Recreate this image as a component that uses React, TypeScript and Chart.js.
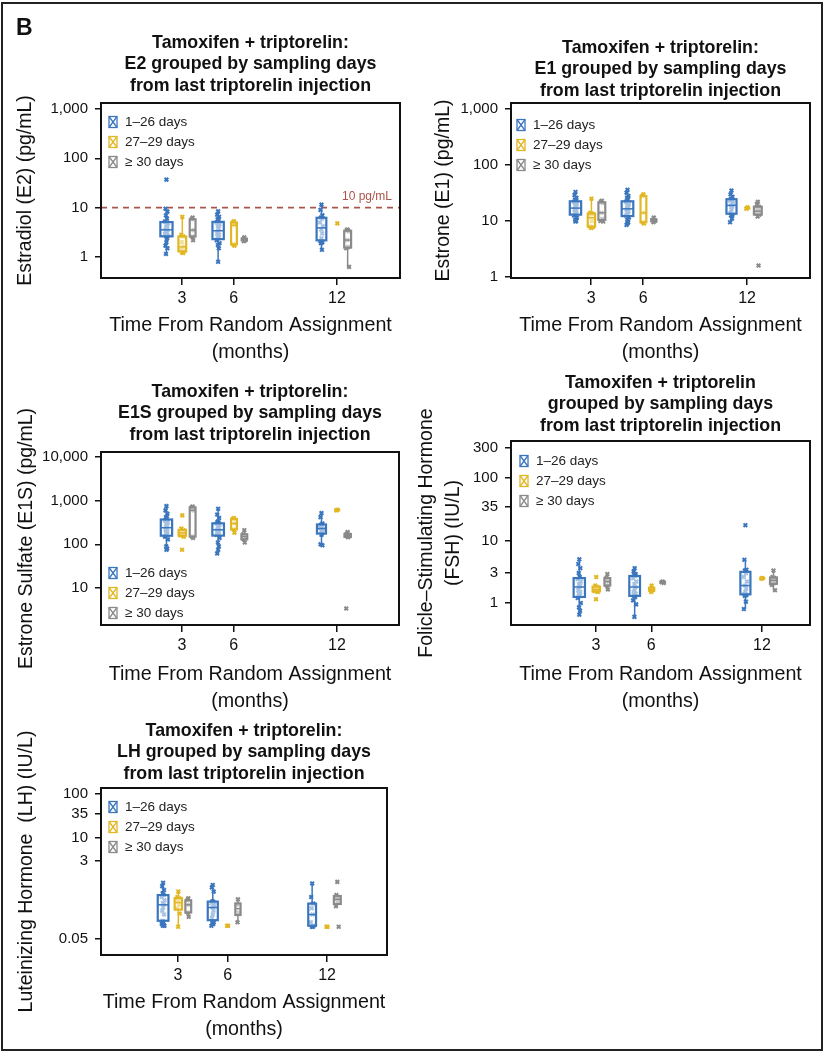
import React, { useEffect, useRef } from 'react';
import { Chart, registerables } from 'chart.js';

Chart.register(...registerables);

// ---------------- data ----------------
const months = [3, 6, 12];
const groupLabels = ['1–26 days', '27–29 days', '≥ 30 days'];
const groupColors = ['#3a76be', '#e2b724', '#8a8a8a'];
const groupOffsets = [-0.9, 0.02, 0.62];

// Estradiol (E2), pg/mL
const e2Days1to26M3 = [37, 9.5, 8.3, 7.0, 6.0, 5.2, 4.8, 4.5, 4.2, 3.9, 3.6, 3.5, 3.3, 3.1, 2.9, 2.7, 2.6, 2.4, 2.0, 1.7, 1.5, 1.15];
const e2Days1to26M6 = [8.4, 7.2, 6.5, 5.8, 5.3, 5.0, 4.6, 4.2, 3.8, 3.4, 3.0, 2.8, 2.6, 2.4, 2.2, 1.9, 1.75, 1.5, 0.8];
const e2Days1to26M12 = [11.5, 9.0, 7.0, 6.3, 6.0, 5.0, 4.2, 3.6, 3.0, 2.4, 2.1, 2.0, 1.9, 1.4];
const e2Days27to29M3 = [6.5, 2.8, 2.6, 2.0, 1.6, 1.4, 1.3, 1.25, 1.2];
const e2Days27to29M6 = [5.3, 5.0, 4.4, 1.8, 1.7];
const e2Days27to29M12 = [4.8];
const e2Days30plusM3 = [6.3, 5.8, 3.5, 2.6, 2.2];
const e2Days30plusM6 = [2.5, 2.3, 2.2, 2.1];
const e2Days30plusM12 = [3.6, 3.5, 3.3, 2.2, 1.6, 1.5, 0.63];

// Estrone (E1), pg/mL
const e1Days1to26M3 = [33, 29, 26, 24, 23, 22, 20, 19, 18, 17, 16, 15, 14, 13.5, 12.5, 11.5, 10.5, 10, 9.8];
const e1Days1to26M6 = [36, 32, 28, 26, 24, 22, 20, 19, 18, 17, 16, 15, 14, 13, 12.5, 11.5, 10.5, 9.5, 9, 8.5];
const e1Days1to26M12 = [35, 30, 27, 25, 24, 23, 21, 19, 18, 16, 14, 13, 12.5, 11, 9.5];
const e1Days27to29M3 = [25, 14, 13.5, 13, 10, 8, 7.8, 7.5];
const e1Days27to29M6 = [30, 28, 14, 9.5, 9];
const e1Days27to29M12 = [17.5, 16.5];
const e1Days30plusM3 = [23, 22, 21, 14, 11, 10, 9.8];
const e1Days30plusM6 = [11.5, 10.5, 10, 9.5];
const e1Days30plusM12 = [22, 20, 18, 16, 15, 14, 13, 12, 1.6];

// Estrone sulfate (E1S), pg/mL
const e1sDays1to26M3 = [750, 600, 500, 420, 390, 350, 320, 290, 260, 240, 220, 200, 180, 165, 150, 130, 90, 80, 75];
const e1sDays1to26M6 = [650, 480, 400, 330, 310, 300, 280, 260, 240, 220, 210, 200, 185, 170, 165, 140, 110, 90, 75, 62];
const e1sDays1to26M12 = [520, 420, 300, 280, 260, 240, 220, 200, 180, 165, 100, 95];
const e1sDays27to29M3 = [460, 230, 210, 190, 175, 160, 150, 75];
const e1sDays27to29M6 = [400, 380, 300, 220, 185];
const e1sDays27to29M12 = [620, 600];
const e1sDays30plusM3 = [730, 700, 600, 150, 140];
const e1sDays30plusM6 = [210, 170, 150, 130, 110];
const e1sDays30plusM12 = [190, 175, 165, 155, 145, 3.4];

// Follicle-stimulating hormone (FSH), IU/L
const fshDays1to26M3 = [5.0, 4.2, 3.6, 3.0, 2.6, 2.4, 2.2, 2.0, 1.9, 1.8, 1.6, 1.5, 1.4, 1.3, 1.2, 1.0, 0.85, 0.75, 0.65];
const fshDays1to26M6 = [3.6, 3.2, 2.9, 2.8, 2.7, 2.5, 2.2, 2.0, 1.8, 1.6, 1.5, 1.4, 1.3, 1.25, 1.1, 0.95, 0.6];
const fshDays1to26M12 = [17.5, 4.9, 3.4, 3.3, 3.0, 2.6, 2.2, 1.9, 1.7, 1.5, 1.4, 1.35, 1.3, 1.05, 0.8];
const fshDays27to29M3 = [2.6, 1.9, 1.8, 1.7, 1.6, 1.55, 1.5, 1.15];
const fshDays27to29M6 = [1.9, 1.7, 1.6, 1.5];
const fshDays27to29M12 = [2.5, 2.45];
const fshDays30plusM3 = [2.9, 2.5, 2.2, 1.9, 1.65];
const fshDays30plusM6 = [2.2, 2.15, 2.1];
const fshDays30plusM12 = [3.3, 2.6, 2.5, 2.3, 2.1, 1.95, 1.6];

// Luteinizing hormone (LH), IU/L
const lhDays1to26M3 = [0.95, 0.8, 0.65, 0.55, 0.5, 0.45, 0.38, 0.33, 0.3, 0.26, 0.22, 0.18, 0.13, 0.12, 0.11, 0.1, 0.1];
const lhDays1to26M6 = [0.85, 0.75, 0.6, 0.36, 0.35, 0.33, 0.3, 0.26, 0.22, 0.18, 0.15, 0.12, 0.115, 0.11, 0.1];
const lhDays1to26M12 = [0.92, 0.45, 0.32, 0.25, 0.18, 0.12, 0.1, 0.095, 0.095];
const lhDays27to29M3 = [0.6, 0.45, 0.42, 0.38, 0.3, 0.25, 0.19, 0.095];
const lhDays27to29M6 = [0.1, 0.1];
const lhDays27to29M12 = [0.095, 0.095];
const lhDays30plusM3 = [0.42, 0.38, 0.3, 0.2, 0.16];
const lhDays30plusM6 = [0.4, 0.3, 0.2, 0.12];
const lhDays30plusM12 = [1.0, 0.5, 0.45, 0.4, 0.35, 0.28, 0.095];

// tick labels
const xTickValues = months;
const e2TickValues = [1, 10, 100, 1000];
const e1TickValues = [1, 10, 100, 1000];
const e1sTickValues = [10, 100, 1000, 10000];
const fshTickValues = [1, 3, 10, 35, 100, 300];
const lhTickValues = [0.05, 3, 10, 35, 100];

const e2Threshold = 10;
const e2ThresholdLabel = '10 pg/mL';

const xAxisTitle = ['Time From Random Assignment', '(months)'];

// ---------------- layout / styles ----------------
const FONT = '"Liberation Sans", Arial, Helvetica, sans-serif';
const jitterPattern = [0, -1, 1, -0.5, 0.5, -1.5, 1.5, -0.25, 0.75];
const jitterStep = 0.055;
const boxWidthK = 2.6;

type Panel = {
  key: string;
  canvas: { left: number; top: number; width: number; height: number };
  area: { left: number; top: number; right: number; bottom: number };
  title: string[];
  titleFirst: number;
  yTitle: string | string[];
  yTitlePad: number;
  yTicks: number[];
  yMin: number;
  yMax: number;
  xMin: number;
  xMax: number;
  xTitlePad: number;
  legendIconDx: number;
  legendTextDx: number;
  legendRow: number;
  legendFromBottom?: boolean;
  data: number[][][];
  threshold?: { value: number; label: string };
  letter?: string;
};

const panels: Panel[] = [
  {
    key: 'e2',
    canvas: { left: 0, top: 0, width: 412, height: 370 },
    area: { left: 101, top: 103, right: 400, bottom: 278 },
    title: ['Tamoxifen + triptorelin:', 'E2 grouped by sampling days', 'from last triptorelin injection'],
    titleFirst: -60,
    yTitle: 'Estradiol (E2) (pg/mL)',
    yTitlePad: 12.5,
    yTicks: e2TickValues,
    yMin: 0.375,
    yMax: 1320,
    xMin: -1.7,
    xMax: 15.66,
    xTitlePad: 3.5,
    legendIconDx: 8,
    legendTextDx: 24,
    legendRow: 19,
    data: [
      [e2Days1to26M3, e2Days1to26M6, e2Days1to26M12],
      [e2Days27to29M3, e2Days27to29M6, e2Days27to29M12],
      [e2Days30plusM3, e2Days30plusM6, e2Days30plusM12],
    ],
    threshold: { value: e2Threshold, label: e2ThresholdLabel },
    letter: 'B',
  },
  {
    key: 'e1',
    canvas: { left: 412, top: 0, width: 416, height: 370 },
    area: { left: 511, top: 103, right: 810, bottom: 278 },
    title: ['Tamoxifen + triptorelin:', 'E1 grouped by sampling days', 'from last triptorelin injection'],
    titleFirst: -55,
    yTitle: 'Estrone (E1) (pg/mL)',
    yTitlePad: 18.5,
    yTicks: e1TickValues,
    yMin: 0.96,
    yMax: 1280,
    xMin: -1.62,
    xMax: 15.63,
    xTitlePad: 3.5,
    legendIconDx: 6,
    legendTextDx: 22,
    legendRow: 22,
    data: [
      [e1Days1to26M3, e1Days1to26M6, e1Days1to26M12],
      [e1Days27to29M3, e1Days27to29M6, e1Days27to29M12],
      [e1Days30plusM3, e1Days30plusM6, e1Days30plusM12],
    ],
  },
  {
    key: 'e1s',
    canvas: { left: 0, top: 370, width: 412, height: 350 },
    area: { left: 101, top: 452, right: 399, bottom: 625 },
    title: ['Tamoxifen + triptorelin:', 'E1S grouped by sampling days', 'from last triptorelin injection'],
    titleFirst: -60,
    yTitle: 'Estrone Sulfate (E1S) (pg/mL)',
    yTitlePad: 13.5,
    yTicks: e1sTickValues,
    yMin: 1.42,
    yMax: 13000,
    xMin: -1.7,
    xMax: 15.6,
    xTitlePad: 4.5,
    legendIconDx: 8,
    legendTextDx: 24,
    legendRow: -52,
    legendFromBottom: true,
    data: [
      [e1sDays1to26M3, e1sDays1to26M6, e1sDays1to26M12],
      [e1sDays27to29M3, e1sDays27to29M6, e1sDays27to29M12],
      [e1sDays30plusM3, e1sDays30plusM6, e1sDays30plusM12],
    ],
  },
  {
    key: 'fsh',
    canvas: { left: 412, top: 370, width: 416, height: 350 },
    area: { left: 511, top: 441, right: 810, bottom: 625 },
    title: ['Tamoxifen + triptorelin', 'grouped by sampling days', 'from last triptorelin injection'],
    titleFirst: -58,
    yTitle: ['Folicle–Stimulating Hormone', '(FSH) (IU/L)'],
    yTitlePad: 1.5,
    yTicks: fshTickValues,
    yMin: 0.445,
    yMax: 388,
    xMin: -1.6,
    xMax: 14.6,
    xTitlePad: 4.5,
    legendIconDx: 9,
    legendTextDx: 25,
    legendRow: 20,
    data: [
      [fshDays1to26M3, fshDays1to26M6, fshDays1to26M12],
      [fshDays27to29M3, fshDays27to29M6, fshDays27to29M12],
      [fshDays30plusM3, fshDays30plusM6, fshDays30plusM12],
    ],
  },
  {
    key: 'lh',
    canvas: { left: 0, top: 720, width: 412, height: 325 },
    area: { left: 101, top: 788, right: 387, bottom: 955 },
    title: ['Tamoxifen + triptorelin:', 'LH grouped by sampling days', 'from last triptorelin injection'],
    titleFirst: -57,
    yTitle: 'Luteinizing Hormone  (LH) (IU/L)',
    yTitlePad: 13.5,
    yTicks: lhTickValues,
    yMin: 0.0216,
    yMax: 137,
    xMin: -1.65,
    xMax: 15.62,
    xTitlePad: 1.5,
    legendIconDx: 8,
    legendTextDx: 24,
    legendRow: 19,
    data: [
      [lhDays1to26M3, lhDays1to26M6, lhDays1to26M12],
      [lhDays27to29M3, lhDays27to29M6, lhDays27to29M12],
      [lhDays30plusM3, lhDays30plusM6, lhDays30plusM12],
    ],
  },
];

function quantile(sorted: number[], p: number) {
  const idx = (sorted.length - 1) * p;
  const lo = Math.floor(idx);
  const hi = Math.ceil(idx);
  return sorted[lo] + (sorted[hi] - sorted[lo]) * (idx - lo);
}

function boxStats(vals: number[]) {
  const logs = vals.map((v) => Math.log10(v)).sort((a, b) => a - b);
  const q1 = quantile(logs, 0.25);
  const med = quantile(logs, 0.5);
  const q3 = quantile(logs, 0.75);
  const iqr = q3 - q1;
  const inside = logs.filter((v) => v >= q1 - 1.5 * iqr && v <= q3 + 1.5 * iqr);
  const lo = Math.min(...inside);
  const hi = Math.max(...inside);
  const p = (v: number) => Math.pow(10, v);
  return { q1: p(q1), med: p(med), q3: p(q3), lo: p(lo), hi: p(hi) };
}

function fmt(v: number) {
  if (v >= 1000) return v.toLocaleString('en-US');
  return String(v);
}

function PanelChart({ cfg }: { cfg: Panel }) {
  const ref = useRef<HTMLCanvasElement | null>(null);
  useEffect(() => {
    const canvas = ref.current;
    if (!canvas) return;
    const c = cfg.canvas;
    const a = cfg.area;

    const datasets = groupLabels.map((label, g) => ({
      type: 'scatter' as const,
      label,
      data: months.flatMap((m, mi) =>
        cfg.data[g][mi].map((v, i) => ({
          x: m + groupOffsets[g] + jitterPattern[i % jitterPattern.length] * jitterStep,
          y: v,
        }))
      ),
      pointStyle: 'crossRot',
      pointRadius: 2.6,
      pointBorderWidth: 2,
      pointHoverRadius: 2.6,
      borderColor: groupColors[g],
      backgroundColor: groupColors[g],
      showLine: false,
    }));

    const decor = {
      id: 'panelDecor',
      beforeDatasetsDraw(chart: any) {
        const ctx = chart.ctx;
        const ca = chart.chartArea;
        const xs = chart.scales.x;
        const ys = chart.scales.y;
        ctx.save();
        if (cfg.threshold) {
          const y = ys.getPixelForValue(cfg.threshold.value);
          ctx.strokeStyle = '#a8564c';
          ctx.lineWidth = 1.6;
          ctx.setLineDash([6, 5]);
          ctx.beginPath();
          ctx.moveTo(ca.left, y);
          ctx.lineTo(ca.right, y);
          ctx.stroke();
          ctx.setLineDash([]);
          ctx.fillStyle = '#a8564c';
          ctx.font = `12px ${FONT}`;
          ctx.textAlign = 'right';
          ctx.textBaseline = 'middle';
          ctx.fillText(cfg.threshold.label, ca.right - 8, y - 11);
        }
        // whiskers
        cfg.data.forEach((arr, g) =>
          arr.forEach((vals, mi) => {
            const st = boxStats(vals);
            const cx = xs.getPixelForValue(months[mi] + groupOffsets[g]);
            ctx.strokeStyle = groupColors[g];
            ctx.lineWidth = 1.5;
            ctx.beginPath();
            ctx.moveTo(cx, ys.getPixelForValue(st.q3));
            ctx.lineTo(cx, ys.getPixelForValue(st.hi));
            ctx.moveTo(cx, ys.getPixelForValue(st.q1));
            ctx.lineTo(cx, ys.getPixelForValue(st.lo));
            ctx.stroke();
          })
        );
        ctx.restore();
      },
      afterDatasetsDraw(chart: any) {
        const ctx = chart.ctx;
        const xs = chart.scales.x;
        const ys = chart.scales.y;
        ctx.save();
        cfg.data.forEach((arr, g) =>
          arr.forEach((vals, mi) => {
            const st = boxStats(vals);
            const cx = xs.getPixelForValue(months[mi] + groupOffsets[g]);
            const w = boxWidthK * Math.sqrt(vals.length);
            const y3 = ys.getPixelForValue(st.q3);
            const y1 = ys.getPixelForValue(st.q1);
            const ym = ys.getPixelForValue(st.med);
            ctx.fillStyle = 'rgba(255,255,255,0.55)';
            ctx.fillRect(cx - w / 2, y3, w, y1 - y3);
            ctx.strokeStyle = groupColors[g];
            ctx.lineWidth = 2.2;
            ctx.strokeRect(cx - w / 2, y3, w, y1 - y3);
            ctx.lineWidth = 1.5;
            ctx.beginPath();
            ctx.moveTo(cx - w / 2, ym);
            ctx.lineTo(cx + w / 2, ym);
            ctx.stroke();
          })
        );
        ctx.restore();
      },
      afterDraw(chart: any) {
        const ctx = chart.ctx;
        const ca = chart.chartArea;
        ctx.save();
        // plot frame
        ctx.strokeStyle = '#111';
        ctx.lineWidth = 2;
        ctx.strokeRect(ca.left, ca.top, ca.right - ca.left, ca.bottom - ca.top);
        // title
        ctx.fillStyle = '#111';
        ctx.font = `bold 17.8px ${FONT}`;
        ctx.textAlign = 'center';
        ctx.textBaseline = 'middle';
        const cx = (ca.left + ca.right) / 2;
        cfg.title.forEach((line, i) => {
          ctx.fillText(line, cx, ca.top + cfg.titleFirst + i * 21.5);
        });
        // legend
        ctx.font = `13.5px ${FONT}`;
        ctx.textAlign = 'left';
        const base = cfg.legendFromBottom ? ca.bottom + cfg.legendRow : ca.top + cfg.legendRow;
        groupLabels.forEach((label, g) => {
          const y = base + g * 20;
          const ix = ca.left + cfg.legendIconDx;
          const iw = 8;
          const ih = 11;
          ctx.strokeStyle = groupColors[g];
          ctx.lineWidth = 1.3;
          ctx.strokeRect(ix, y - ih / 2, iw, ih);
          ctx.beginPath();
          ctx.moveTo(ix, y - ih / 2);
          ctx.lineTo(ix + iw, y + ih / 2);
          ctx.moveTo(ix + iw, y - ih / 2);
          ctx.lineTo(ix, y + ih / 2);
          ctx.stroke();
          ctx.fillStyle = '#222';
          ctx.fillText(label, ca.left + cfg.legendTextDx, y + 0.5);
        });
        if (cfg.letter) {
          ctx.fillStyle = '#111';
          ctx.font = `bold 23px ${FONT}`;
          ctx.textAlign = 'left';
          ctx.textBaseline = 'alphabetic';
          ctx.fillText(cfg.letter, 16 - c.left, 35 - c.top);
        }
        ctx.restore();
      },
    };

    const chart = new Chart(canvas, {
      type: 'scatter',
      data: { datasets: datasets as any },
      plugins: [decor],
      options: {
        animation: false,
        responsive: false,
        maintainAspectRatio: false,
        devicePixelRatio: 1,
        events: [],
        layout: {
          padding: {
            left: 0,
            top: a.top - c.top,
            right: c.left + c.width - a.right,
            bottom: 0,
          },
        },
        plugins: {
          legend: { display: false },
          tooltip: { enabled: false },
          title: { display: false },
        },
        scales: {
          x: {
            type: 'linear',
            min: cfg.xMin,
            max: cfg.xMax,
            afterBuildTicks: (s: any) => {
              s.ticks = xTickValues.map((v) => ({ value: v }));
            },
            afterFit: (s: any) => {
              s.height = c.top + c.height - a.bottom;
            },
            grid: {
              display: true,
              drawOnChartArea: false,
              drawTicks: true,
              tickLength: 7,
              color: '#111',
              lineWidth: 1.5,
            },
            border: { display: false },
            ticks: {
              autoSkip: false,
              maxRotation: 0,
              padding: 4,
              color: '#111',
              font: { family: FONT, size: 16 },
              callback: (v: any) => String(v),
            },
            title: {
              display: true,
              text: xAxisTitle,
              color: '#111',
              font: { family: FONT, size: 19.7, lineHeight: 1.37 },
              padding: { top: 0, bottom: cfg.xTitlePad },
            },
          },
          y: {
            type: 'logarithmic',
            min: cfg.yMin,
            max: cfg.yMax,
            afterBuildTicks: (s: any) => {
              s.ticks = cfg.yTicks.map((v) => ({ value: v }));
            },
            afterFit: (s: any) => {
              s.width = a.left - c.left;
            },
            grid: {
              display: true,
              drawOnChartArea: false,
              drawTicks: true,
              tickLength: 6,
              color: '#111',
              lineWidth: 1.5,
            },
            border: { display: false },
            ticks: {
              autoSkip: false,
              padding: 7,
              color: '#111',
              font: { family: FONT, size: 15 },
              callback: (v: any) => fmt(Number(v)),
            },
            title: {
              display: true,
              text: cfg.yTitle as any,
              color: '#111',
              font: { family: FONT, size: 19.5, lineHeight: 1.37 },
              padding: { top: cfg.yTitlePad, bottom: 0 },
            },
          },
        },
      } as any,
    });
    return () => chart.destroy();
  }, [cfg]);

  const c = cfg.canvas;
  return (
    <canvas
      ref={ref}
      width={c.width}
      height={c.height}
      style={{ position: 'absolute', left: c.left, top: c.top, width: c.width, height: c.height }}
    />
  );
}

export default function App() {
  return (
    <div
      style={{
        position: 'absolute',
        left: 0,
        top: 0,
        width: 828,
        height: 1055,
        background: '#fff',
        overflow: 'hidden',
      }}
    >
      <div
        style={{
          position: 'absolute',
          left: 1,
          top: 2,
          width: 822,
          height: 1049,
          border: '2px solid #222',
          boxSizing: 'border-box',
        }}
      />
      {panels.map((p) => (
        <PanelChart key={p.key} cfg={p} />
      ))}
    </div>
  );
}
